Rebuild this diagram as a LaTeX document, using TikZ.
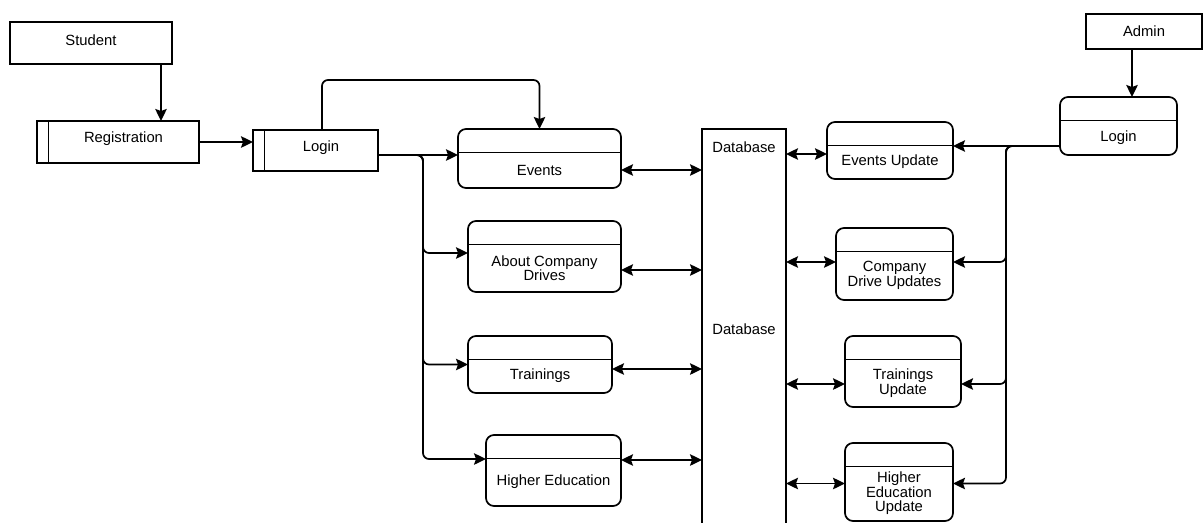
\documentclass[tikz,border=0pt]{standalone}
\usepackage{fontspec}
\setmainfont{Liberation Sans}
\usetikzlibrary{arrows.meta}
\begin{document}
\begin{tikzpicture}[x=1pt,y=-1pt,
  line width=1.7pt,
  >={Stealth[length=12pt,width=11.5pt,inset=2pt]},
  every node/.style={font=\fontsize{14.8pt}{14.5pt}\selectfont, align=center, inner sep=0pt, outer sep=0pt},
  ent/.style={draw, anchor=north west},
  subproc/.style={draw, anchor=north west,
    path picture={\draw ([xshift=11.5pt]path picture bounding box.north west) -- ([xshift=11.5pt]path picture bounding box.south west);},
    label={[xshift=5.5pt,yshift=3pt]center:#1}},
  proc/.style={draw, rounded corners=8pt, anchor=north west,
    path picture={\draw ([yshift=-23.5pt]path picture bounding box.north west) -- ([yshift=-23.5pt]path picture bounding box.north east);},
    label={[yshift=-11.5pt]center:#1}},
  flow/.style={->, rounded corners=6pt},
  sync/.style={<->}
]
\useasboundingbox (0,0) rectangle (1204,522);
\clip (0,0) rectangle (1204,522);

% student side
\node[ent, minimum width=162pt, minimum height=42pt, text height=10.5pt, text depth=6pt] (stu) at (10,22) {Student};
\node[subproc=Registration, minimum width=162pt, minimum height=42pt] (reg) at (37,121) {};
\node[subproc=Login, minimum width=125pt, minimum height=41pt] (sl) at (253,130) {};

\node[proc=Events, minimum width=163pt, minimum height=59pt] (evt) at (458,129) {};
\node[proc={About Company\\Drives}, minimum width=153pt, minimum height=71pt] (adc) at (468,221) {};
\node[proc=Trainings, minimum width=144pt, minimum height=57pt] (trn) at (468,336) {};
\node[proc={Higher Education}, minimum width=135pt, minimum height=71pt] (hed) at (486,435) {};

% shared store
\node[draw, anchor=north west, minimum width=84pt, minimum height=420pt] (db) at (702,129) {};
\node (dbt1) at (744,147) {Database};
\node (dbt2) at (744,329) {Database};

% admin side
\node[ent, minimum width=116pt, minimum height=35pt] (adm) at (1086,14) {Admin};
\node[proc=Login, minimum width=117pt, minimum height=58pt] (alog) at (1060,97) {};

\node[proc={Events Update}, minimum width=126pt, minimum height=57pt] (eu) at (827,122) {};
\node[proc={Company\\Drive Updates}, minimum width=117pt, minimum height=72pt] (cdu) at (836,228) {};
\node[proc={Trainings\\Update}, minimum width=116pt, minimum height=71pt] (tu) at (845,336) {};
\node[proc={Higher\\Education\\Update}, minimum width=108pt, minimum height=78pt] (heu) at (845,443) {};

% student flow
\draw[->] ([xshift=70pt]stu.south) -- ([xshift=43pt]reg.north);
\draw[->] (reg.east) -- (sl.west |- reg.east);
\draw[flow] ([xshift=6.5pt]sl.north) -- ++(0,-50) -| (evt.north);

\coordinate (sj) at ([yshift=-4.5pt]sl.east);
\coordinate (sbus) at ([xshift=45pt]sj);
\draw[->] (sj) -- (evt.west |- sj);
\draw[flow] (sj) -- (sbus) |- ([yshift=3.5pt]adc.west);
\draw[flow] (sj) -- (sbus) |- (trn.west);
\draw[flow] (sj) -- (sbus) |- ([yshift=11.5pt]hed.west);

\draw[sync] ([yshift=-11.5pt]evt.east) coordinate (p) -- (db.west |- p);
\draw[sync] ([yshift=-13.5pt]adc.east) coordinate (p) -- (db.west |- p);
\draw[sync] ([yshift=-4.5pt]trn.east) coordinate (p) -- (db.west |- p);
\draw[sync] ([yshift=10.5pt]hed.east) coordinate (p) -- (db.west |- p);

% admin flow
\draw[->] ([xshift=-12pt]adm.south) -- ([xshift=13.5pt]alog.north);
\coordinate (aj) at ([yshift=-20pt]alog.west);
\coordinate (abus) at ([xshift=-54pt]aj);
\draw[->] (aj) -- (eu.east |- aj);
\draw[flow] (aj) -- (abus) |- ([yshift=2pt]cdu.east);
\draw[flow] (aj) -- (abus) |- ([yshift=-12.5pt]tu.east);
\draw[flow] (aj) -- (abus) |- ([yshift=-1.5pt]heu.east);

\draw[sync] ([yshift=-3.5pt]eu.west) coordinate (p) -- (db.east |- p);
\draw[sync] ([yshift=2pt]cdu.west) coordinate (p) -- (db.east |- p);
\draw[sync] ([yshift=-12.5pt]tu.west) coordinate (p) -- (db.east |- p);
\draw[sync] ([yshift=-1.5pt]heu.west) coordinate (p) -- (db.east |- p);
\end{tikzpicture}
\end{document}
